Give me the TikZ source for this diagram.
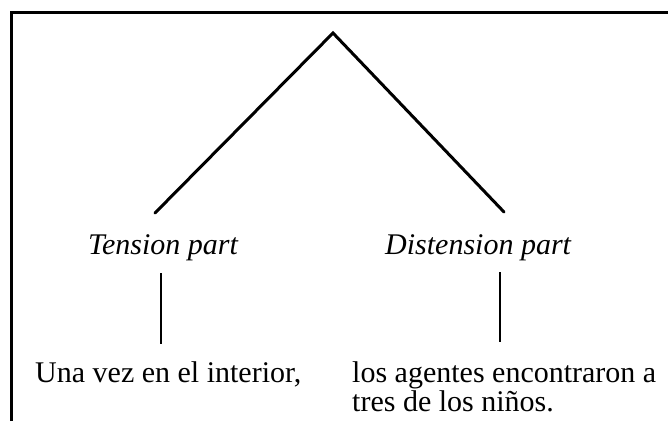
\documentclass[tikz,border=0pt]{standalone}
\usepackage{fontspec}
\setmainfont{Liberation Serif}
\begin{document}
\begin{tikzpicture}[x=1pt,y=-1pt,
  lbl/.style={inner sep=0pt,anchor=base west,font=\fontsize{30}{29}\selectfont},
  cat/.style={lbl,font=\fontsize{30}{29}\selectfont\itshape},
  branch/.style={line width=3pt,line cap=round,line join=miter},
  stem/.style={line width=2pt},
  frame/.style={line width=2.5pt}]
\useasboundingbox (0,0) rectangle (668,421);
% frame (top and left edges visible)
\draw[frame] (11.5,421) -- (11.5,12.5) -- (668,12.5);
% nodes
\coordinate (apex) at (333,33);
\coordinate (lend) at (155,213);
\coordinate (rend) at (504,212);
\node[cat] (tension) at (88,254) {Tension part};
\node[cat] (distension) at (385,254) {Distension part};
\node[lbl] (una) at (35,382) {Una vez en el interior,};
\node[lbl,align=left] (agentes) at (352,411) {los agentes encontraron a\\tres de los niños.};
\coordinate (ltop) at (161,273);
\coordinate (lbot) at (161,344);
\coordinate (rtop) at (500,272);
\coordinate (rbot) at (500,342);
% connectors
\draw[branch] (lend) -- (apex) -- (rend);
\draw[stem] (ltop) -- (lbot);
\draw[stem] (rtop) -- (rbot);
\end{tikzpicture}
\end{document}
